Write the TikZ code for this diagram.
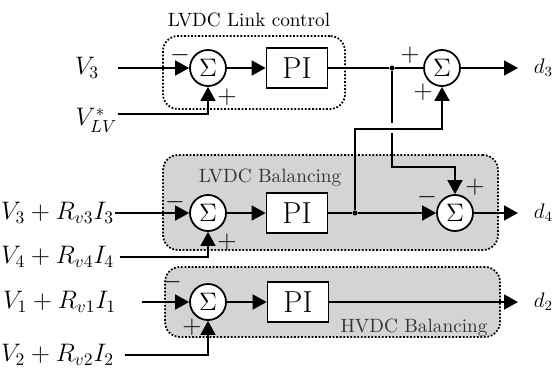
\documentclass[tikz,border=0pt]{standalone}
\usepackage{amsmath}
\usepackage{tikz}
\usetikzlibrary{arrows.meta, positioning}
\tikzset{>={Triangle[length=2.8mm,width=3mm]}}
\tikzset{
  sumnode/.style={circle, draw, fill=white, minimum size=0.72cm, inner sep=0pt, font=\Large},
  pibox/.style={rectangle, draw, fill=white, minimum width=1.22cm, minimum height=0.8cm, inner sep=0pt, font=\LARGE},
  group/.style={rectangle, rounded corners=0.3cm, densely dotted, line width=1pt},
  inp/.style={anchor=east, inner sep=0pt, font=\Large},
  dout/.style={anchor=west, inner sep=0pt, inner xsep=0.3cm, font=\large},
  sgn/.style={font=\Large, inner sep=0pt},
  jdot/.style={circle, fill, inner sep=0pt, minimum size=0.1cm},
  grptext/.style={font=\fontsize{10.95}{13}\selectfont},
}

\begin{document}
\begin{tikzpicture}[line width=1pt]
\useasboundingbox (0,0) rectangle (11.06,7.38);

\node[group, draw, minimum width=3.64cm, minimum height=1.46cm] (g1) at (5.08,5.93) {};
\node[group, draw, fill=black!17, minimum width=6.7cm, minimum height=1.9cm] (g2) at (6.61,3.33) {};
\node[group, draw, fill=black!17, minimum width=6.7cm, minimum height=1.4cm] (g3) at (6.65,1.34) {};
\node[grptext] at (4.98,6.98) {LVDC Link control};
\node[grptext, text=black!80] at (5.4,3.82) {LVDC Balancing};
\node[grptext, text=black!80] at (8.28,0.82) {HVDC Balancing};

% link control
\node[inp] (vthree) at (2.0,6.02) {$V_3$};
\node[inp, yshift=-0.12cm] (vlv) at (2.36,5.10) {$V_{LV}^*$};
\node[sumnode] (s1) at (4.16,6.02) {$\Sigma$};
\node[pibox] (pi1) at (5.94,6.02) {PI};
\node[jdot] (j1) at (7.84,6.02) {};
\node[sumnode] (s2) at (8.84,6.02) {$\Sigma$};
\node[dout] (d3) at (10.36,6.02) {$d_3$};

% LVDC balancing
\node[inp] (vthreer) at (2.3,3.12) {$V_3+R_{v3}I_3$};
\node[inp] (vfourr) at (2.3,2.24) {$V_4+R_{v4}I_4$};
\node[sumnode] (s3) at (4.16,3.12) {$\Sigma$};
\node[pibox] (pi2) at (5.94,3.12) {PI};
\node[jdot] (j2) at (7.1,3.12) {};
\node[sumnode] (s4) at (9.1,3.12) {$\Sigma$};
\node[dout] (d4) at (10.36,3.12) {$d_4$};

% HVDC balancing
\node[inp] (voner) at (2.34,1.34) {$V_1+R_{v1}I_1$};
\node[inp] (vtwor) at (2.3,0.28) {$V_2+R_{v2}I_2$};
\node[sumnode] (s5) at (4.16,1.34) {$\Sigma$};
\node[pibox] (pi3) at (5.96,1.34) {PI};
\node[dout] (d2) at (10.36,1.34) {$d_2$};

\coordinate (gapa) at (7.84,4.92);
\coordinate (gapb) at (7.84,4.72);
\coordinate (k1) at (7.84,4.04);
\coordinate (k2) at (7.1,4.8);

\draw[->, shorten <=0.36cm] (vthree) -- (s1);
\draw[->] ([yshift=0.12cm]vlv.east) -| (s1);
\draw[->] (s1) -- (pi1);
\draw (pi1) -- (j1) -- (s2);
\draw[->] (s2) -- (d3);
\draw (j1) -- (gapa);
\draw[->] (gapb) -- (k1) -| (s4);
\draw[->] (j2) -- (k2) -| (s2);

\draw[->] (vthreer) -- (s3);
\draw[->, shorten <=0.1cm] (vfourr.east) -| (s3);
\draw[->] (s3) -- (pi2);
\draw[->] (pi2) -- (j2) -- (s4);
\draw[->] (s4) -- (d4);

\draw[->, shorten <=0.5cm] (voner) -- (s5);
\draw[->, shorten <=0.2cm] (vtwor.east) -| (s5);
\draw[->] (s5) -- (pi3);
\draw[->] (pi3) -- (d2);

\node[sgn] at (3.6,6.28) {$-$};
\node[sgn] at (4.54,5.44) {$+$};
\node[sgn] at (8.2,6.28) {$+$};
\node[sgn] at (8.46,5.54) {$+$};
\node[sgn] at (3.5,3.34) {$-$};
\node[sgn] at (4.54,2.54) {$+$};
\node[sgn] at (8.54,3.44) {$-$};
\node[sgn] at (9.5,3.64) {$+$};
\node[sgn] at (3.44,1.74) {$-$};
\node[sgn] at (3.84,0.84) {$+$};

\end{tikzpicture}
\end{document}
